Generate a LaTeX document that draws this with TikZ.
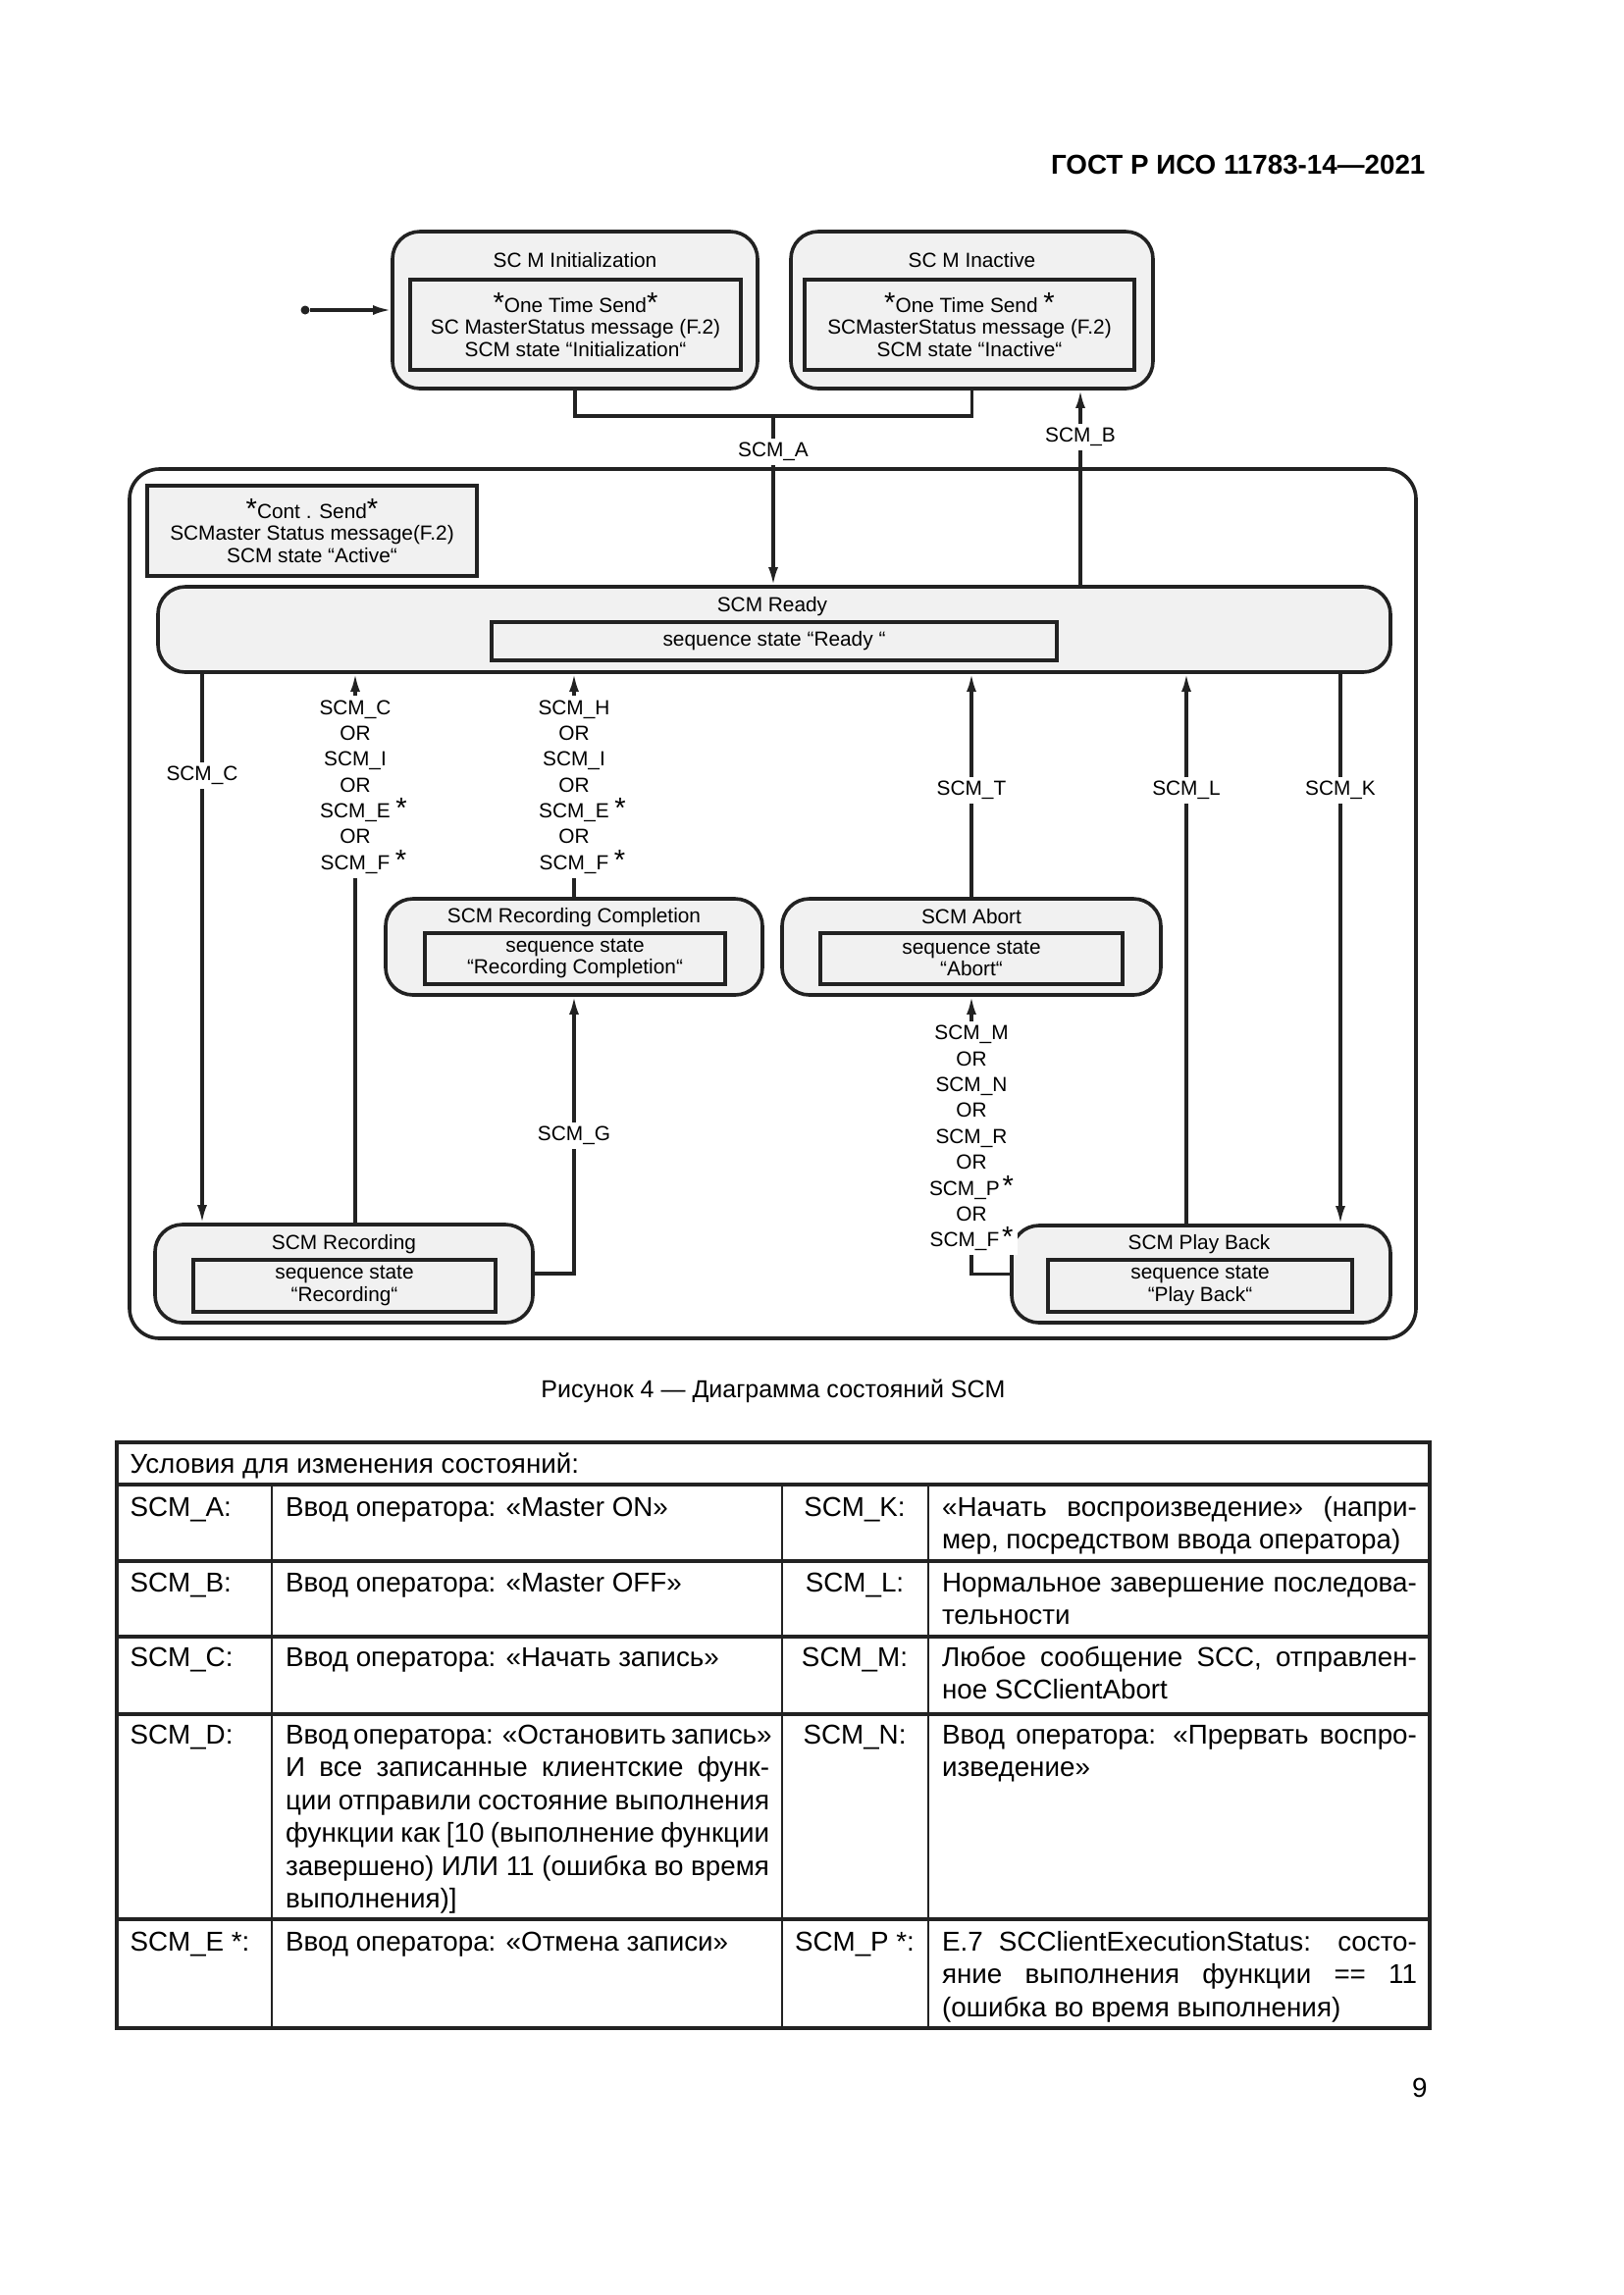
\documentclass[tikz,border=0pt]{standalone}
\usepackage{fontspec}
\setmainfont{Liberation Sans}
\usetikzlibrary{arrows.meta,positioning}
\definecolor{scmline}{HTML}{222222}
\definecolor{scmfill}{HTML}{F1F1F1}
\newcommand{\SCMpx}{0.36pt}
\newcommand{\scmfont}{\fontsize{7.5}{8}\selectfont}
\newcommand{\scmast}{{\fontsize{10.5}{10}\selectfont*}}
\newcommand{\tabfont}{\fontsize{10}{12.06}\selectfont}

\begin{document}
\begin{tikzpicture}[x=\SCMpx, y=-\SCMpx,
		scmstate/.style={draw=scmline, line width=1.3pt, fill=scmfill, rounded corners=10pt, inner sep=0pt},
		scmseq/.style={draw=scmline, line width=1.3pt, fill=scmfill, inner sep=0pt, align=center, font=\scmfont},
		scmtitle/.style={anchor=base, inner sep=0pt, font=\scmfont},
		scmlink/.style={draw=scmline, line width=1.1pt},
		scmarrow/.style={scmlink, -{Latex[length=6.5pt, width=3.6pt]}},
		scmcond/.style={fill=white, inner sep=1.5pt, align=center, font=\fontsize{7.5}{9.5}\selectfont},
		tabrule/.style={draw=scmline, line width=1.1pt},
		tabcol/.style={draw=scmline, line width=0.7pt},
		tabcell/.style={anchor=base west, inner sep=0pt, font=\tabfont},
	]
		\useasboundingbox (0,0) rectangle (1654,2339);
		\node[anchor=base east, inner sep=0pt, font=\fontsize{10}{12}\selectfont\bfseries] (gost) at (1453,177) {ГОСТ Р ИСО 11783-14—2021};

		\node[scmstate, fill=white, rounded corners=11pt, minimum width=1311*\SCMpx, minimum height=886*\SCMpx] (active) at (787.5,921) {};
		\node[scmseq, rounded corners=0pt, minimum width=336*\SCMpx, minimum height=92*\SCMpx] (contsend) at (318,541) {\scmast Cont . Send\scmast\\SCMaster Status message(F.2)\\SCM state “Active“};

		\node[scmstate, minimum width=372*\SCMpx, minimum height=160*\SCMpx] (init) at (586,316) {};
		\node[scmtitle] (initT) at (586,272) {SC M Initialization};
		\node[scmseq, minimum width=337*\SCMpx, minimum height=92*\SCMpx] (initS) at (586.5,331) {\scmast One Time Send\scmast\\SC MasterStatus message (F.2)\\SCM state “Initialization“};
		\node[scmstate, minimum width=369*\SCMpx, minimum height=160*\SCMpx] (inactive) at (990.5,316) {};
		\node[scmtitle] (inactiveT) at (990.5,272) {SC M Inactive};
		\node[scmseq, minimum width=336*\SCMpx, minimum height=92*\SCMpx] (inactiveS) at (988,331) {\scmast One Time Send \scmast\\SCMasterStatus message (F.2)\\SCM state “Inactive“};

		\node[scmstate, minimum width=1256*\SCMpx, minimum height=87*\SCMpx] (ready) at (789,641.5) {};
		\node[scmtitle] (readyT) at (787,623) {SCM Ready};
		\node[scmseq, minimum width=576*\SCMpx, minimum height=39*\SCMpx] (readyS) at (789,653.5) {sequence state “Ready “};

		\node[scmstate, minimum width=384*\SCMpx, minimum height=98*\SCMpx] (recdone) at (585,965) {};
		\node[scmtitle] (recdoneT) at (585,940) {SCM Recording Completion};
		\node[scmseq, minimum width=306*\SCMpx, minimum height=52*\SCMpx] (recdoneS) at (586,977) {sequence state\\“Recording Completion“};
		\node[scmstate, minimum width=386*\SCMpx, minimum height=98*\SCMpx] (abort) at (990,965) {};
		\node[scmtitle] (abortT) at (990,941) {SCM Abort};
		\node[scmseq, minimum width=308*\SCMpx, minimum height=52*\SCMpx] (abortS) at (990,977) {sequence state\\“Abort“};

		\node[scmstate, minimum width=385*\SCMpx, minimum height=100*\SCMpx] (rec) at (350.5,1298) {};
		\node[scmtitle] (recT) at (350.5,1273) {SCM Recording};
		\node[scmseq, minimum width=308*\SCMpx, minimum height=53*\SCMpx] (recS) at (351,1310.5) {sequence state\\“Recording“};
		\node[scmstate, minimum width=386*\SCMpx, minimum height=99*\SCMpx] (play) at (1224,1298.5) {};
		\node[scmtitle] (playT) at (1222,1273) {SCM Play Back};
		\node[scmseq, minimum width=310*\SCMpx, minimum height=53*\SCMpx] (playS) at (1223,1310.5) {sequence state\\“Play Back“};

		\node[circle, fill=scmline, inner sep=0pt, minimum size=9*\SCMpx] (start) at (311,316) {};
		\coordinate (joinAB) at (788,424);
		\coordinate (xB) at (1101,0);
		\coordinate (xC) at (206,0);
		\coordinate (xI) at (362,0);
		\coordinate (xL) at (1209,0);
		\coordinate (xK) at (1366,0);

		\draw[scmarrow] (start) -- (init.west |- start);
		\draw[scmlink] (init.south) |- (joinAB) -| (inactive.south);
		\draw[scmarrow] (joinAB) -- (joinAB |- ready.north);
		\draw[scmarrow] (ready.north -| xB) -- (inactive.south -| xB);
		\draw[scmarrow] (ready.south -| xC) -- (rec.north -| xC);
		\draw[scmarrow] (rec.north -| xI) -- (ready.south -| xI);
		\draw[scmarrow] (recdone.north) -- (recdone.north |- ready.south);
		\draw[scmarrow] (abort.north) -- (abort.north |- ready.south);
		\draw[scmarrow] (play.north -| xL) -- (ready.south -| xL);
		\draw[scmarrow] (ready.south -| xK) -- (play.north -| xK);
		\draw[scmarrow] (rec.east) -| (recdone.south);
		\draw[scmarrow] (play.west) -| (abort.south);

		\node[scmcond] (condA) at (788,460) {SCM\_A};
		\node[scmcond] (condB) at (1101,445) {SCM\_B};
		\node[scmcond] (condC) at (206,790) {SCM\_C};
		\node[scmcond] (condCI) at (362,802) {SCM\_C\\OR\\SCM\_I\\OR\\SCM\_E\rlap{\hspace{2pt}\scmast}\\OR\\SCM\_F\rlap{\hspace{2pt}\scmast}};
		\node[scmcond] (condHI) at (585,802) {SCM\_H\\OR\\SCM\_I\\OR\\SCM\_E\rlap{\hspace{2pt}\scmast}\\OR\\SCM\_F\rlap{\hspace{2pt}\scmast}};
		\node[scmcond] (condT) at (990,805) {SCM\_T};
		\node[scmcond] (condL) at (1209,805) {SCM\_L};
		\node[scmcond] (condK) at (1366,805) {SCM\_K};
		\node[scmcond] (condG) at (585,1157) {SCM\_G};
		\node[scmcond] (condMN) at (990,1160) {SCM\_M\\OR\\SCM\_N\\OR\\SCM\_R\\OR\\SCM\_P\hspace{1pt}\scmast\\OR\\SCM\_F\hspace{1pt}\scmast};

		\node[anchor=base, inner sep=0pt, font=\fontsize{9}{11}\selectfont] (caption) at (788,1424) {Рисунок 4 — Диаграмма состояний SCM};

		\draw[tabrule] (119,1470) rectangle (1457,2067);
		\foreach \y in {1513,1591,1668,1747,1956}
			\draw[tabrule] (119,\y) -- (1457,\y);
		\foreach \x in {277,797,946}
			\draw[tabcol] (\x,1513) -- (\x,2067);

		\node[tabcell] (head) at (132,1501) {Условия для изменения состояний:};
		\node[tabcell] (keyA) at (132,1545) {SCM\_A:};
		\node[tabcell] (keyB) at (132,1622) {SCM\_B:};
		\node[tabcell] (keyC) at (132,1698) {SCM\_C:};
		\node[tabcell] (keyD) at (132,1777) {SCM\_D:};
		\node[tabcell] (keyE) at (132,1988) {SCM\_E *:};
		\node[tabcell, anchor=base] (keyK) at (871,1545) {SCM\_K:};
		\node[tabcell, anchor=base] (keyL) at (871,1622) {SCM\_L:};
		\node[tabcell, anchor=base] (keyM) at (871,1698) {SCM\_M:};
		\node[tabcell, anchor=base] (keyN) at (871,1777) {SCM\_N:};
		\node[tabcell, anchor=base] (keyP) at (871,1988) {SCM\_P *:};

		\node[tabcell] (textA) at (290.5,1545) {Ввод оператора: «Master ON»};
		\node[tabcell] (textB) at (290.5,1622) {Ввод оператора: «Master OFF»};
		\node[tabcell] (textC) at (290.5,1698) {Ввод оператора: «Начать запись»};
		\node[tabcell] (textD) at (290.5,1777) {\parbox[t]{177.5pt}{\makebox[\linewidth][s]{Ввод оператора: «Остановить запись»}\\
			\makebox[\linewidth][s]{И все записанные клиентские функ-}\\
			\makebox[\linewidth][s]{ции отправили состояние выполнения}\\
			\makebox[\linewidth][s]{функции как [10 (выполнение функции}\\
			\makebox[\linewidth][s]{завершено) ИЛИ 11 (ошибка во время}\\
			выполнения)]}};
		\node[tabcell] (textE) at (290.5,1988) {Ввод оператора: «Отмена записи»};
		\node[tabcell] (textK) at (959.5,1545) {\parbox[t]{174.2pt}{\makebox[\linewidth][s]{«Начать воспроизведение» (напри-}\\
			мер, посредством ввода оператора)}};
		\node[tabcell] (textL) at (959.5,1622) {\parbox[t]{174.2pt}{\makebox[\linewidth][s]{Нормальное завершение последова-}\\
			тельности}};
		\node[tabcell] (textM) at (959.5,1698) {\parbox[t]{174.2pt}{\makebox[\linewidth][s]{Любое сообщение SCC, отправлен-}\\
			ное SCClientAbort}};
		\node[tabcell] (textN) at (959.5,1777) {\parbox[t]{174.2pt}{\makebox[\linewidth][s]{Ввод оператора: «Прервать воспро-}\\
			изведение»}};
		\node[tabcell] (textP) at (959.5,1988) {\parbox[t]{174.2pt}{\makebox[\linewidth][s]{E.7 SCClientExecutionStatus: состо-}\\
			\makebox[\linewidth][s]{яние выполнения функции == 11}\\
			(ошибка во время выполнения)}};

		\node[anchor=base east, inner sep=0pt, font=\fontsize{10}{12}\selectfont] (pagenum) at (1455,2137) {9};
	\end{tikzpicture}
\end{document}
